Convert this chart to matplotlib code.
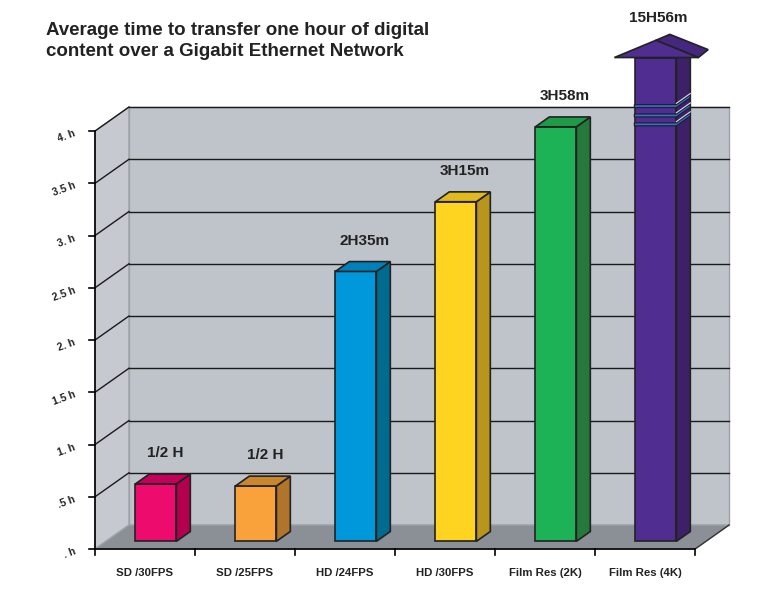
import matplotlib.pyplot as plt
from matplotlib.patches import Polygon
import numpy as np

plt.rcParams['font.family'] = ['Liberation Sans', 'DejaVu Sans']
plt.rcParams['font.weight'] = 'bold'

# data
categories = ['SD /30FPS', 'SD /25FPS', 'HD /24FPS', 'HD /30FPS', 'Film Res (2K)', 'Film Res (4K)']
hours = [0.55, 0.53, 2.583, 3.25, 3.967, 15.933]
value_labels = ['1/2 H', '1/2 H', '2H35m', '3H15m', '3H58m', '15H56m']
y_ticks = [0, 0.5, 1, 1.5, 2, 2.5, 3, 3.5, 4]
y_tick_labels = ['. h', '.5 h', '1. h', '1.5 h', '2. h', '2.5 h', '3. h', '3.5 h', '4. h']

front_colors = ['#ED0C6E', '#F9A23B', '#0098DA', '#FFD420', '#1EB257', '#4F2D91']
side_colors = ['#B3004E', '#B0742A', '#006B8F', '#B9951E', '#25793B', '#3C2068']
top_colors = ['#C5005A', '#C9862D', '#0081B9', '#E2BA1D', '#1F9A47', '#452780']

# pseudo-3D geometry (data units)
DX, DY = 0.34, 0.23      # full depth offset
D0 = 0.32                # depth fraction where bar front sits
BD = 0.41                # bar depth fraction
W = 0.41                 # bar width
YMAX = 4.0
CLIP = 4.63              # drawn height of the broken 4K bar

fig = plt.figure(figsize=(7.7, 5.92), dpi=100)
ax = fig.add_axes([0, 0, 1, 1])
ax.set_xlim(-0.95, 6.75)
ax.set_ylim(-0.411, 5.254)
ax.axis('off')

n = len(categories)

# walls and floor
ax.add_patch(Polygon([(DX, DY), (n + DX, DY), (n + DX, YMAX + DY), (DX, YMAX + DY)],
                     facecolor='#BFC3CA', edgecolor='#9DA2A8', lw=1, zorder=0))
ax.add_patch(Polygon([(0, 0), (DX, DY), (DX, YMAX + DY), (0, YMAX)],
                     facecolor='#C6C9CF', edgecolor='#9DA2A8', lw=1, zorder=0))
ax.add_patch(Polygon([(0, 0), (n, 0), (n + DX, DY), (DX, DY)],
                     facecolor='#8B9096', edgecolor='#9DA2A8', lw=1, zorder=0))

for h in y_ticks[1:]:
    ax.plot([DX, n + DX], [h + DY, h + DY], color='#1a1a1a', lw=1, zorder=1)
    ax.plot([0, DX], [h, h + DY], color='#1a1a1a', lw=1, zorder=1)

# axes lines and ticks
ax.plot([0, 0], [0, YMAX], color='black', lw=1.2, zorder=2)
ax.plot([0, n], [0, 0], color='black', lw=1.2, zorder=2)
ax.plot([n, n + DX], [0, DY], color='#333333', lw=1, zorder=2)
for h, lab in zip(y_ticks, y_tick_labels):
    ax.plot([-0.06, 0], [h, h], color='black', lw=1.2, zorder=2)
    ax.text(-0.2, h - 0.02, lab, rotation=20, rotation_mode='anchor',
            ha='right', va='center', fontsize=7.5, color='#222222')
for i in range(n + 1):
    ax.plot([i, i], [0, -0.06], color='black', lw=1.2, zorder=2)
for i, cat in enumerate(categories):
    ax.text(i + 0.5, -0.23, cat, ha='center', va='center', fontsize=8.2, color='#222222')

# bars
x_front = np.arange(n) + 0.5 - W / 2 + D0 * DX
y_base = D0 * DY
bx, by = BD * DX, BD * DY
drawn = [min(v, CLIP) for v in hours]

ax.bar(x_front, drawn, width=W, bottom=y_base, align='edge',
       color=front_colors, edgecolor='#222222', lw=1.2, zorder=3)

for i in range(n):
    x0, h = x_front[i], drawn[i]
    top = y_base + h
    ax.add_patch(Polygon([(x0 + W, y_base), (x0 + W + bx, y_base + by),
                          (x0 + W + bx, top + by), (x0 + W, top)],
                         facecolor=side_colors[i], edgecolor='#222222', lw=1.2, zorder=3))
    if hours[i] <= CLIP:
        ax.add_patch(Polygon([(x0, top), (x0 + W, top), (x0 + W + bx, top + by), (x0 + bx, top + by)],
                             facecolor=top_colors[i], edgecolor='#222222', lw=1.2, zorder=3))
        ax.text(i + 0.7, top + by + 0.2, value_labels[i], ha='center', va='center',
                fontsize=11, color='#222222')
    else:
        # arrow head on the broken bar
        hl, hr = x0 - 0.21, x0 + W + 0.22
        tip = (x0 + W / 2, top + 0.165)
        ax.add_patch(Polygon([tip, (tip[0] + bx, tip[1] + by * 0.6), (hr + bx * 0.7, top + by * 0.8), (hr, top)],
                             facecolor=top_colors[i], edgecolor='#222222', lw=1.2, zorder=3))
        ax.add_patch(Polygon([(hl, top), tip, (hr, top)],
                             facecolor=front_colors[i], edgecolor='#222222', lw=1.2, zorder=4))
        # break marks
        bh = 0.028
        for yb in [4.05, 4.135, 4.225]:
            ax.add_patch(Polygon([(x0 - 0.01, yb), (x0 + W, yb), (x0 + W + bx, yb + by),
                                  (x0 + W + bx, yb + by + bh), (x0 + W, yb + bh), (x0 - 0.01, yb + bh)],
                                 facecolor='#3A72B8', edgecolor='#1e1e3a', lw=0.9, zorder=5))
            ax.plot([x0 + W, x0 + W + bx], [yb + bh + 0.012, yb + by + bh + 0.012],
                    color='#d8dce6', lw=0.8, zorder=6)
        ax.text(tip[0] + 0.02, tip[1] + 0.21, value_labels[i], ha='center', va='center',
                fontsize=11, color='#222222')

fig.text(46 / 770, 1 - 41 / 592, 'Average time to transfer one hour of digital\ncontent over a Gigabit Ethernet Network',
         ha='left', va='center', fontsize=13.5, color='#222222', linespacing=1.3)

fig.savefig('out.png', dpi=100)
